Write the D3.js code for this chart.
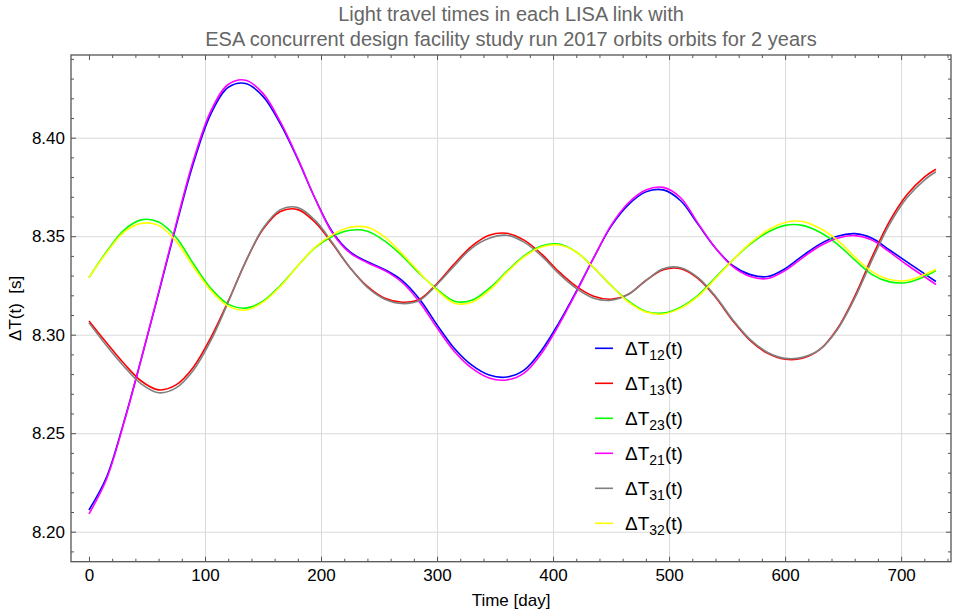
<!DOCTYPE html>
<html><head><meta charset="utf-8">
<script src="https://cdn.jsdelivr.net/npm/d3@7"></script>
<style>body{margin:0;background:#fff}svg{display:block}</style>
</head><body>
<svg id="c" width="956" height="611"></svg>
<script>
const titleLines = ["Light travel times in each LISA link with", "ESA concurrent design facility study run 2017 orbits orbits for 2 years"];
const xLabel = "Time [day]";
const yLabel = "ΔT(t)  [s]";
const xTicks = [0,100,200,300,400,500,600,700];
const yTicks = [8.20,8.25,8.30,8.35,8.40];
const days = [0,15,30,45,60,75,90,105,120,135,150,165,180,195,210,225,240,255,270,285,300,315,330,345,360,375,390,405,420,435,450,465,480,495,510,525,540,555,570,585,600,615,630,645,660,675,690,705,720,730];
const dT12 = [8.211,8.2275,8.2555,8.2875,8.321,8.355,8.387,8.412,8.4255,8.4275,8.421,8.407,8.389,8.369,8.352,8.342,8.337,8.333,8.3275,8.318,8.305,8.293,8.2845,8.2795,8.2785,8.282,8.292,8.306,8.322,8.339,8.355,8.366,8.3725,8.3735,8.368,8.356,8.344,8.335,8.3305,8.3295,8.3335,8.340,8.346,8.350,8.3513,8.349,8.343,8.337,8.331,8.327];
const dT13 = [8.307,8.296,8.2855,8.2765,8.272,8.2745,8.2835,8.2985,8.317,8.337,8.3535,8.3625,8.3635,8.357,8.346,8.334,8.3245,8.3185,8.3165,8.318,8.326,8.336,8.345,8.3505,8.3515,8.348,8.341,8.332,8.3245,8.3195,8.318,8.3205,8.3275,8.333,8.3335,8.3285,8.319,8.307,8.297,8.2905,8.2875,8.288,8.2925,8.303,8.3195,8.3395,8.3575,8.371,8.380,8.384];
const dT23 = [8.329,8.342,8.353,8.3583,8.3572,8.3495,8.336,8.3235,8.3155,8.3135,8.317,8.325,8.335,8.3442,8.350,8.353,8.3525,8.3475,8.340,8.331,8.323,8.317,8.3175,8.3235,8.332,8.340,8.345,8.346,8.342,8.334,8.325,8.317,8.3118,8.311,8.314,8.320,8.329,8.338,8.346,8.352,8.3555,8.3555,8.352,8.346,8.338,8.3305,8.3268,8.3265,8.3295,8.3325];
const dT21 = [8.209,8.2265,8.255,8.2875,8.3215,8.356,8.3885,8.4135,8.427,8.4292,8.4225,8.408,8.3895,8.369,8.3515,8.3415,8.3365,8.3325,8.3265,8.3165,8.3035,8.2915,8.283,8.278,8.277,8.2805,8.2905,8.305,8.3215,8.339,8.3555,8.367,8.3735,8.3748,8.3695,8.3565,8.344,8.3345,8.3295,8.3285,8.3325,8.339,8.345,8.349,8.3503,8.348,8.342,8.3355,8.3295,8.3255];
const dT31 = [8.306,8.2945,8.284,8.275,8.2705,8.273,8.282,8.297,8.3165,8.337,8.354,8.3635,8.3645,8.358,8.3465,8.334,8.324,8.318,8.3158,8.3175,8.3255,8.335,8.344,8.349,8.3505,8.347,8.340,8.331,8.3235,8.3185,8.3175,8.3205,8.3275,8.3335,8.334,8.329,8.3195,8.3075,8.2975,8.291,8.288,8.2885,8.2925,8.3025,8.3185,8.338,8.356,8.3695,8.3785,8.3827];
const dT32 = [8.329,8.3415,8.352,8.3565,8.3555,8.3475,8.3345,8.3225,8.3145,8.3125,8.3165,8.3245,8.335,8.3445,8.3508,8.3545,8.3545,8.3495,8.341,8.3315,8.3225,8.316,8.3165,8.3225,8.3315,8.3395,8.3445,8.3455,8.342,8.334,8.325,8.3165,8.3115,8.3105,8.3135,8.3195,8.3285,8.338,8.3465,8.353,8.357,8.3575,8.354,8.348,8.3395,8.332,8.328,8.3275,8.3305,8.3332];
const seriesNames = ["12","13","23","21","31","32"];
const seriesValues = [dT12,dT13,dT23,dT21,dT31,dT32];
const seriesColors = ["#0000ff","#ff0000","#00ff00","#ff00ff","#808080","#ffff00"];

const L=71, R=951, T=55, B=561.7;
const svg = d3.select("#c");
const x = d3.scaleLinear().domain([-15.5,743]).range([L,R]);
const y = d3.scaleLinear().domain([8.18477,8.44198]).range([B,T]);
const frameCol = "#555";
const font = "'Liberation Sans', Arial, sans-serif";

// grid
svg.append("g").attr("transform",`translate(0,${B})`)
  .call(d3.axisBottom(x).tickValues(xTicks.filter(d=>d>0)).tickSize(-(B-T)).tickFormat(""))
  .call(g=>{g.select(".domain").remove();g.selectAll("line").attr("stroke","#d9d9d9").attr("stroke-width",1);});
svg.append("g").attr("transform",`translate(${L},0)`)
  .call(d3.axisLeft(y).tickValues(yTicks).tickSize(-(R-L)).tickFormat(""))
  .call(g=>{g.select(".domain").remove();g.selectAll("line").attr("stroke","#d9d9d9").attr("stroke-width",1);});

// series
const line = d3.line().x((d,i)=>x(days[i])).y(d=>y(d)).curve(d3.curveCatmullRom.alpha(0.5));
seriesValues.forEach((vals,k)=>{
  svg.append("path").datum(vals).attr("d",line).attr("fill","none")
    .attr("stroke",seriesColors[k]).attr("stroke-width",1.6);
});

// minor tick values
const xMinor = d3.range(20,741,20).filter(d=>d%100!==0);
const yMinor = d3.range(819,845).map(d=>d/100).filter(d=>Math.round(d*100)%5!==0);

function styleAxis(g){g.select(".domain").remove();g.selectAll("line").attr("stroke",frameCol);g.selectAll("text").attr("fill","#000").style("font-family",font).style("font-size","17px");}
svg.append("g").attr("transform",`translate(0,${B})`)
  .call(d3.axisBottom(x).tickValues(xTicks).tickSizeInner(-5).tickSizeOuter(0).tickPadding(7).tickFormat(d3.format("d"))).call(styleAxis);
svg.append("g").attr("transform",`translate(0,${B})`)
  .call(d3.axisBottom(x).tickValues(xMinor).tickSizeInner(-3).tickSizeOuter(0).tickFormat("")).call(styleAxis);
svg.append("g").attr("transform",`translate(0,${T})`)
  .call(d3.axisTop(x).tickValues(xTicks).tickSizeInner(-5).tickSizeOuter(0).tickFormat("")).call(styleAxis);
svg.append("g").attr("transform",`translate(0,${T})`)
  .call(d3.axisTop(x).tickValues(xMinor).tickSizeInner(-3).tickSizeOuter(0).tickFormat("")).call(styleAxis);
svg.append("g").attr("transform",`translate(${L},0)`)
  .call(d3.axisLeft(y).tickValues(yTicks).tickSizeInner(-5).tickSizeOuter(0).tickPadding(6).tickFormat(d3.format(".2f"))).call(styleAxis);
svg.append("g").attr("transform",`translate(${L},0)`)
  .call(d3.axisLeft(y).tickValues(yMinor).tickSizeInner(-3).tickSizeOuter(0).tickFormat("")).call(styleAxis);
svg.append("g").attr("transform",`translate(${R},0)`)
  .call(d3.axisRight(y).tickValues(yTicks).tickSizeInner(-5).tickSizeOuter(0).tickFormat("")).call(styleAxis);
svg.append("g").attr("transform",`translate(${R},0)`)
  .call(d3.axisRight(y).tickValues(yMinor).tickSizeInner(-3).tickSizeOuter(0).tickFormat("")).call(styleAxis);

svg.append("rect").attr("x",L).attr("y",T).attr("width",R-L).attr("height",B-T)
  .attr("fill","none").attr("stroke",frameCol).attr("stroke-width",1.3);

titleLines.forEach((t,i)=>{
  svg.append("text").attr("x",(L+R)/2).attr("y",21+i*24.5).attr("text-anchor","middle")
    .style("font-family",font).style("font-size","20px").attr("fill","#666").text(t);
});
svg.append("text").attr("x",(L+R)/2).attr("y",606).attr("text-anchor","middle")
  .style("font-family",font).style("font-size","17px").attr("fill","#000").text(xLabel);
svg.append("text").attr("transform",`translate(21,${(T+B)/2}) rotate(-90)`).attr("text-anchor","middle")
  .style("font-family",font).style("font-size","17px").attr("fill","#000").style("white-space","pre").text(yLabel);

const lg = svg.append("g");
seriesNames.forEach((n,k)=>{
  const yy = 348.3 + 35*k;
  lg.append("line").attr("x1",595).attr("x2",613).attr("y1",yy).attr("y2",yy)
    .attr("stroke",seriesColors[k]).attr("stroke-width",1.6);
  const t = lg.append("text").attr("x",625).attr("y",yy+6.5)
    .style("font-family",font).style("font-size","19px").attr("fill","#000");
  t.append("tspan").text("ΔT");
  t.append("tspan").attr("dy",5).style("font-size","14px").text(n);
  t.append("tspan").attr("dy",-5).text("(t)");
});
</script>
</body></html>
